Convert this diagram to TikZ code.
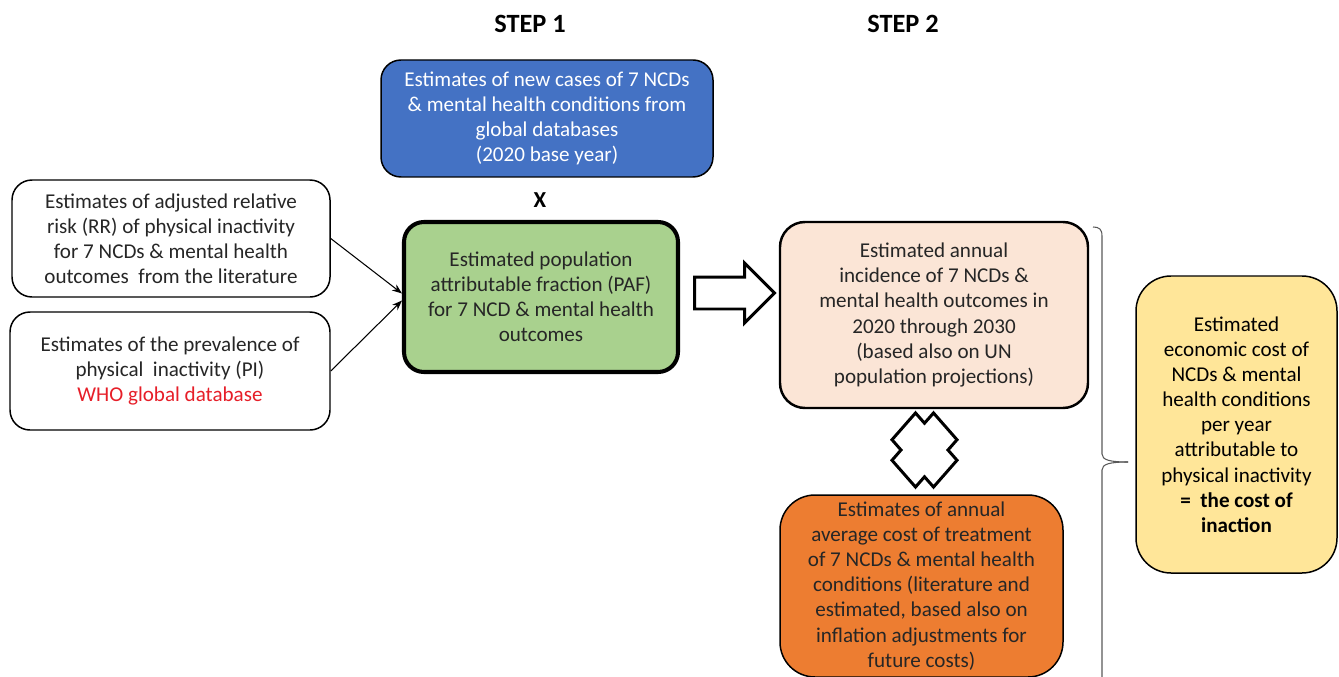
\documentclass[tikz,border=0pt]{standalone}
\usepackage{fontspec}
\setmainfont{Carlito}
\usepackage{tikz}
\usetikzlibrary{positioning, shapes.arrows, arrows.meta}
\definecolor{boxBlue}{RGB}{68,114,196}
\definecolor{boxGreen}{RGB}{169,209,142}
\definecolor{boxPeach}{RGB}{251,229,214}
\definecolor{boxOrange}{RGB}{237,125,49}
\definecolor{boxYellow}{RGB}{255,230,153}
\definecolor{whoRed}{RGB}{230,30,40}
\tikzset{
	node distance=0.2cm and 0.26cm,
	every text node part/.style= {
		align=center
	},
	every node/.style= {
		font=\fontsize{12}{14.3}\selectfont
	},
	stage/.style= {
		rectangle,
		rounded corners=0.4cm,
		draw,
		line width=0.85pt,
		text=black!85,
		inner sep=0pt
	},
	stepLabel/.style= {
		font=\fontsize{15}{18}\selectfont\bfseries
	},
	feed/.style= {
		-{Stealth[length=2mm, width=1.5mm]},
		line width=0.6pt
	},
	bold outline/.style= {
		draw,
		line width=1.7pt,
		fill=white
	}
}

\begin{document}
\begin{tikzpicture}
	\useasboundingbox (0,0) rectangle (26.78,-13.54);
	
	\node(step1)[stepLabel] at (10.6,-0.48) {STEP 1};
	\node(step2)[stepLabel] at (18.06,-0.48) {STEP 2};
	
	% inputs of step 1
	\node(newCases)[stage, fill=boxBlue, text=white, minimum width=6.64cm, minimum height=2.34cm] at (10.94,-2.37)
		{Estimates of new cases of 7 NCDs\\\& mental health conditions from\\global databases\\(2020 base year)};
	\node(times)[font=\fontsize{13}{15}\selectfont\bfseries] at (10.8,-4.0) {X};
	
	\node(rrEst)[stage, minimum width=6.36cm, minimum height=2.34cm] at (3.42,-4.77)
		{Estimates of adjusted relative\\risk (RR) of physical inactivity\\for 7 NCDs \& mental health\\outcomes\ \ from the literature};
	\node(piEst)[stage, minimum width=6.4cm, minimum height=2.36cm] at (3.40,-7.42)
		{Estimates of the prevalence of\\physical\ \ inactivity (PI)\\\textcolor{whoRed}{WHO global database}};
	
	\node(paf)[stage, fill=boxGreen, line width=2.3pt, minimum width=5.48cm, minimum height=3.0cm] at (10.82,-5.94)
		{Estimated population\\attributable fraction (PAF)\\for 7 NCD \& mental health\\outcomes};
	\draw[feed](rrEst.east) to ([yshift=2pt]paf.west);
	\draw[feed](piEst.east) to ([yshift=-2pt]paf.west);
	
	% step 2
	\node(bigArrow)[single arrow, bold outline, right=of paf, yshift=0.08cm, minimum height=1.6cm, minimum width=1.14cm, single arrow head extend=0.28cm, inner xsep=0pt, inner ysep=0.29cm, text height=0pt, text depth=0pt]{};
	
	\node(incidence)[stage, fill=boxPeach, line width=1.4pt, rounded corners=0.5cm, minimum width=6.16cm, minimum height=3.72cm] at (18.68,-6.3)
		{Estimated annual\\incidence of 7 NCDs \&\\mental health outcomes in\\2020 through 2030\\(based also on UN\\population projections)};
	
	\node(treatCost)[stage, fill=boxOrange, rounded corners=0.7cm, minimum width=5.66cm, minimum height=3.64cm] at (18.43,-11.72)
		{Estimates of annual\\average cost of treatment\\of 7 NCDs \& mental health\\conditions (literature and\\estimated, based also on\\inflation adjustments for\\future costs)};
	
	\coordinate(mult) at (18.49,-9.0);
	\draw[bold outline, shift={(mult)}, yscale=1.14] (-0.65,0.18) -- (-0.18,0.65) -- (0,0.47) -- (0.18,0.65) -- (0.65,0.18) -- (0.47,0) -- (0.65,-0.18) -- (0.18,-0.65) -- (0,-0.47) -- (-0.18,-0.65) -- (-0.65,-0.18) -- (-0.47,0) -- cycle;
	
	% result
	\coordinate(braceTip) at (22.56,-9.24);
	\draw[black!65, line width=0.6pt] (21.86,-4.54) .. controls (21.98,-4.54) and (22.04,-4.58) .. (22.04,-4.72) -- (22.04,-9.08) .. controls (22.04,-9.2) and (22.2,-9.24) .. (braceTip);
	\draw[black!65, line width=0.6pt] (braceTip) .. controls (22.2,-9.24) and (22.04,-9.28) .. (22.04,-9.4) -- (22.04,-13.7);
	
	\node(econCost)[stage, fill=boxYellow, text=black, rounded corners=0.7cm, minimum width=4.02cm, minimum height=5.94cm] at (24.73,-8.49)
		{Estimated\\economic cost of\\NCDs \& mental\\health conditions\\per year\\attributable to\\physical inactivity\\\textbf{=\ \ the cost of}\\\textbf{inaction}};
	
\end{tikzpicture}
\end{document}
